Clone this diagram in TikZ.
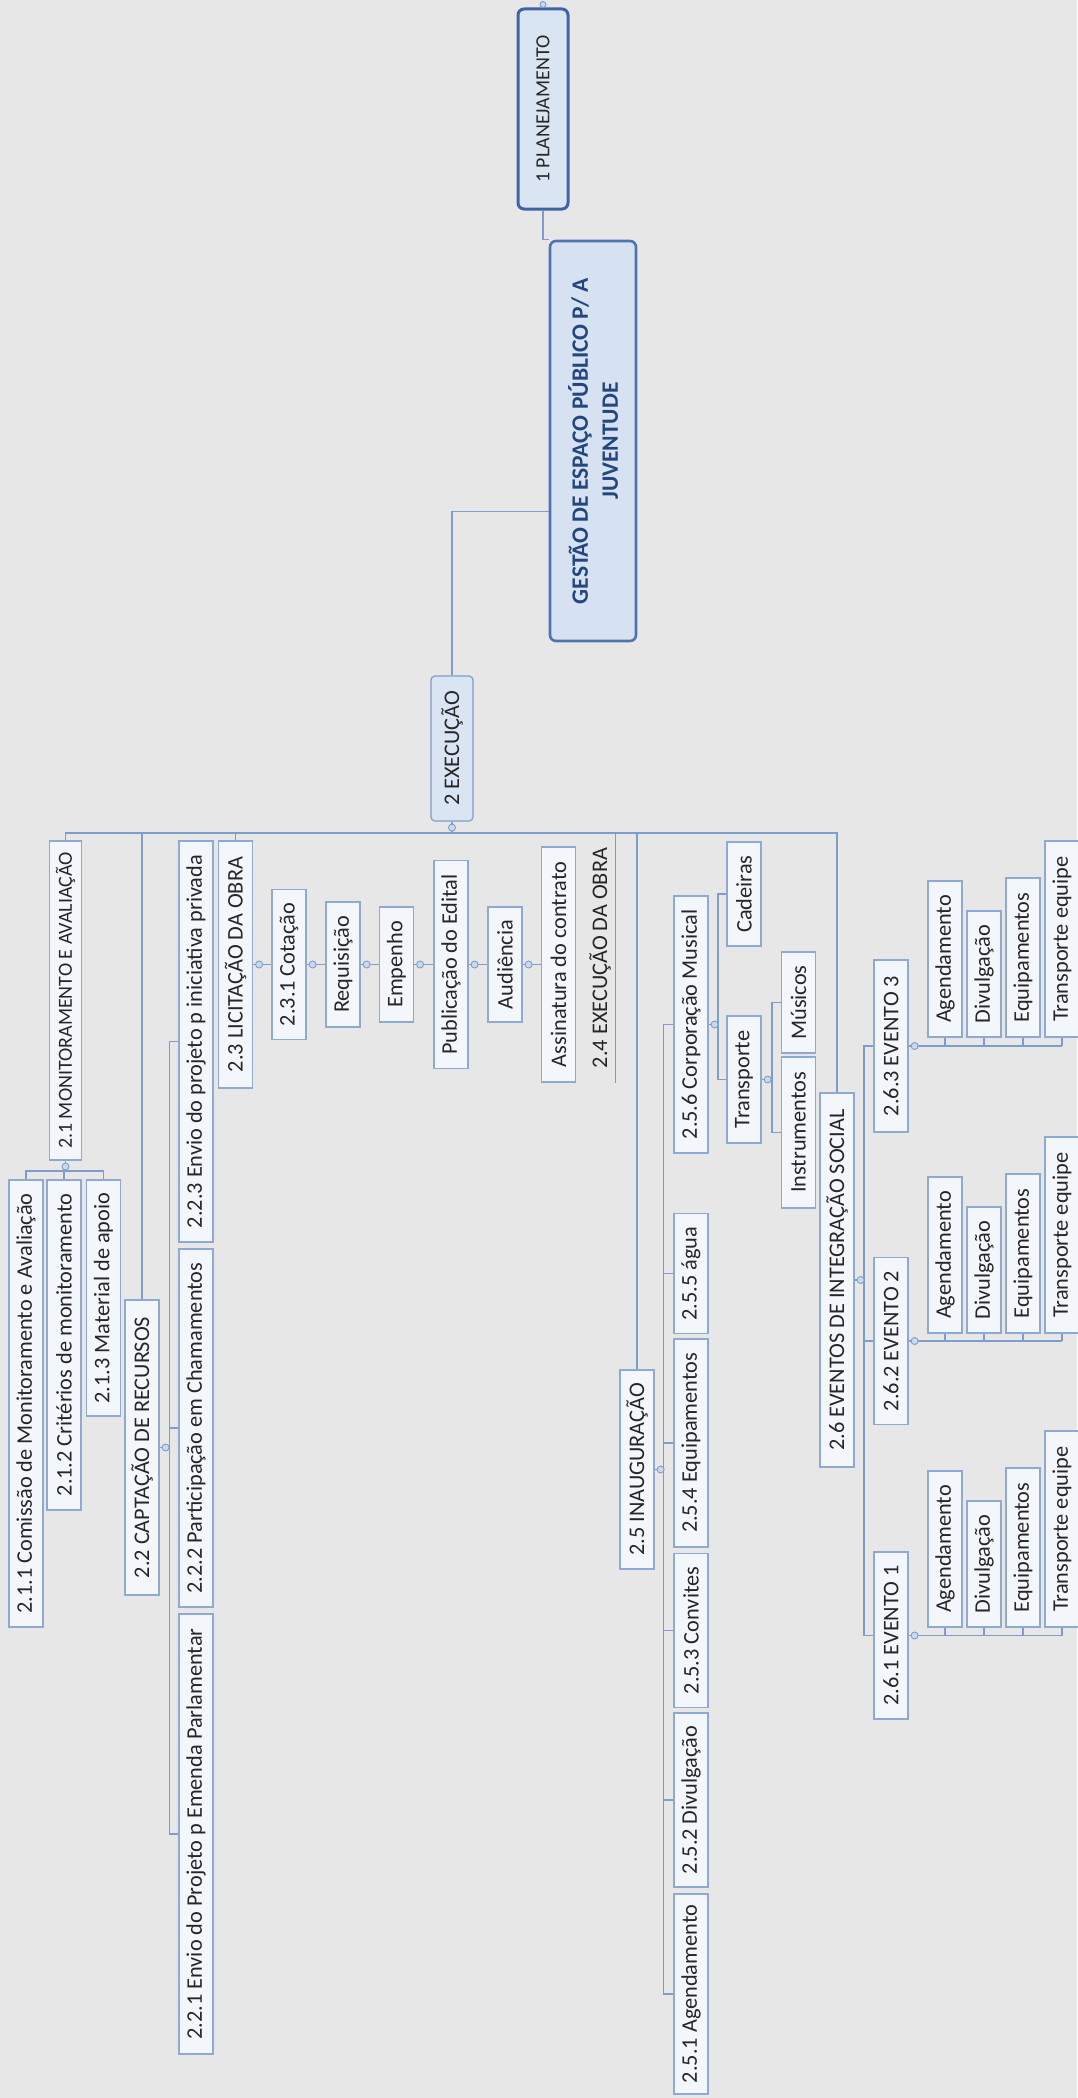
\documentclass[tikz,border=0pt]{standalone}
\usepackage{fontspec}
\setmainfont{Carlito}
\usetikzlibrary{calc}

\definecolor{bgc}{HTML}{E7E7E7}
\definecolor{boxfill}{HTML}{F3F6FA}
\definecolor{boxline}{HTML}{8EA9D2}
\definecolor{linec}{HTML}{7F9DCA}
\definecolor{knobfill}{HTML}{C9D9EF}
\definecolor{execfill}{HTML}{DAE5F3}
\definecolor{rootfill}{HTML}{D6E2F1}
\definecolor{rootline}{HTML}{4E74B0}
\definecolor{roottext}{HTML}{24467F}
\definecolor{planline}{HTML}{3F64A6}

\tikzset{
	topic/.style={draw=boxline, fill=boxfill, line width=1.2pt, rotate=90,
		minimum height=34pt, inner sep=2pt, text=black!85,
		font=\fontsize{22.3}{26}\selectfont},
	bare/.style={rotate=90, inner sep=2pt, text=black!85,
		font=\fontsize{22.3}{26}\selectfont},
	mainbox/.style={topic, fill=execfill, draw=linec, rounded corners=4pt},
	rootbox/.style={topic, fill=rootfill, draw=rootline, line width=2.6pt,
		rounded corners=6pt, align=center, text=roottext,
		font=\fontsize{23.5}{30}\selectfont\bfseries},
	planbox/.style={topic, fill=execfill, draw=planline, line width=3pt,
		rounded corners=6pt, font=\fontsize{20}{24}\selectfont},
	link/.style={draw=linec, line width=1.2pt},
	knob/.style={draw=linec, fill=knobfill, line width=0.9pt},
}

\begin{document}
\begin{tikzpicture}[x=1pt, y=-1pt]

	\useasboundingbox (0,0) rectangle (1077,2098);
	\fill[bgc] (0,0) rectangle (1077,2098);

	% centre
	\node[planbox, minimum width=200pt, minimum height=50pt] (plan) at (543,109) {1 PLANEJAMENTO};
	\node[rootbox, minimum width=400pt, minimum height=86pt] (root) at (593,441) {GESTÃO DE ESPAÇO PÚBLICO P/ A\\JUVENTUDE};
	\node[mainbox, minimum width=145pt, minimum height=42pt] (exec) at (452,748.5) {2 EXECUÇÃO};

	% 2.1
	\node[topic, minimum width=319pt, minimum height=32pt, font=\fontsize{20}{24}\selectfont] (mon) at (65.5,1000.5) {2.1 MONITORAMENTO E AVALIAÇÃO};
	\node[topic, minimum width=447pt] (mon1) at (26,1403.5) {2.1.1 Comissão de Monitoramento e Avaliação};
	\node[topic, minimum width=330pt] (mon2) at (64,1345) {2.1.2 Critérios de monitoramento};
	\node[topic, minimum width=236pt] (mon3) at (103.5,1298) {2.1.3 Material de apoio};

	% 2.2
	\node[topic, minimum width=295pt] (cap) at (142,1447.5) {2.2 CAPTAÇÃO DE RECURSOS};
	\node[topic, minimum width=440pt] (cap1) at (196,1834) {2.2.1 Envio do Projeto p Emenda Parlamentar};
	\node[topic, minimum width=358pt] (cap2) at (196,1428) {2.2.2 Participação em Chamamentos};
	\node[topic, minimum width=401pt] (cap3) at (196,1041.5) {2.2.3 Envio do projeto p iniciativa privada};

	% 2.3 and 2.4
	\node[topic, minimum width=247pt] (lic) at (235.5,964.5) {2.3 LICITAÇÃO DA OBRA};
	\node[topic, minimum width=150pt] (cot) at (289,964.5) {2.3.1 Cotação};
	\node[topic, minimum width=125pt] (req) at (343,964.5) {Requisição};
	\node[topic, minimum width=115pt] (emp) at (396.5,964.5) {Empenho};
	\node[topic, minimum width=208pt] (pub) at (451,964.5) {Publicação do Edital};
	\node[topic, minimum width=115pt] (aud) at (505,964.5) {Audiência};
	\node[topic, minimum width=235pt] (ass) at (558.5,964.5) {Assinatura do contrato};
	\node[bare, minimum width=250pt, minimum height=30pt] (obra) at (600,958) {2.4 EXECUÇÃO DA OBRA};

	% 2.5
	\node[topic, minimum width=199pt] (ina) at (637,1469.5) {2.5 INAUGURAÇÃO};
	\node[topic, minimum width=200pt] (ina1) at (691,1994) {2.5.1 Agendamento};
	\node[topic, minimum width=174pt] (ina2) at (691,1800) {2.5.2 Divulgação};
	\node[topic, minimum width=154pt] (ina3) at (691,1630.5) {2.5.3 Convites};
	\node[topic, minimum width=208pt] (ina4) at (691,1443) {2.5.4 Equipamentos};
	\node[topic, minimum width=120pt] (ina5) at (691,1273.5) {2.5.5 água};
	\node[topic, minimum width=257pt] (ina6) at (691,1024.5) {2.5.6 Corporação Musical};
	\node[topic, minimum width=104pt] (cad) at (744,894) {Cadeiras};
	\node[topic, minimum width=127pt] (tra) at (744,1079.5) {Transporte};
	\node[topic, minimum width=101pt] (mus) at (798.5,1002.5) {Músicos};
	\node[topic, minimum width=151pt] (ins) at (798.5,1132.5) {Instrumentos};

	% 2.6
	\node[topic, minimum width=374pt] (evs) at (837,1280) {2.6 EVENTOS DE INTEGRAÇÃO SOCIAL};
	\node[topic, minimum width=172pt] (ev3) at (891,1046) {2.6.3 EVENTO 3};
	\node[topic, minimum width=167pt] (ev2) at (891,1341) {2.6.2 EVENTO 2};
	\node[topic, minimum width=167pt] (ev1) at (891,1635.5) {2.6.1 EVENTO 1};

	\node[topic, minimum width=156pt] (ag3) at (945,959) {Agendamento};
	\node[topic, minimum width=126pt] (di3) at (984,974) {Divulgação};
	\node[topic, minimum width=159pt] (eq3) at (1023,957.5) {Equipamentos};
	\node[topic, minimum width=196pt] (te3) at (1062,939) {Transporte equipe};

	\node[topic, minimum width=156pt] (ag2) at (945,1255) {Agendamento};
	\node[topic, minimum width=126pt] (di2) at (984,1270) {Divulgação};
	\node[topic, minimum width=159pt] (eq2) at (1023,1253.5) {Equipamentos};
	\node[topic, minimum width=196pt] (te2) at (1062,1235) {Transporte equipe};

	\node[topic, minimum width=156pt] (ag1) at (945,1549) {Agendamento};
	\node[topic, minimum width=126pt] (di1) at (984,1564) {Divulgação};
	\node[topic, minimum width=159pt] (eq1) at (1023,1547.5) {Equipamentos};
	\node[topic, minimum width=196pt] (te1) at (1062,1529) {Transporte equipe};

	% links
	\draw[link] (plan.west) |- (root.north east);
	\draw[link] ($(root.north east)!0.675!(root.north west)$) -| (exec.east);

	\coordinate (bar) at (452,833);
	\draw[link] (exec.west) -- (bar);
	\draw[link] (mon.east) |- (bar) -| (evs.east);
	\draw[link] (cap.east) -- (cap.east |- bar);
	\draw[link] (lic.east) -- (lic.east |- bar);
	\draw[link] (ina.east) -- (ina.east |- bar);
	\draw[link] (obra.south east) -- (obra.south west);

	\coordinate (monb) at (65.5,1171);
	\draw[link] (mon.west) -- (monb);
	\draw[link] (mon1.east) |- (monb) -| (mon3.east);
	\draw[link] (mon2.east) -- (mon2.east |- monb);

	\coordinate (capb) at (169.5,1447.5);
	\draw[link] (cap.south) -- (capb);
	\draw[link] (cap3.north) -| (capb) |- (cap1.north);
	\draw[link] (cap2.north) -- (cap2.north -| capb);

	\draw[link] (lic.south) -- (cot.north);
	\draw[link] (cot.south) -- (req.north);
	\draw[link] (req.south) -- (emp.north);
	\draw[link] (emp.south) -- (pub.north);
	\draw[link] (pub.south) -- (aud.north);
	\draw[link] (aud.south) -- (ass.north);

	\coordinate (inab) at (663.5,1469.5);
	\draw[link] (ina.south) -- (inab);
	\draw[link] (ina6.north) -| (inab) |- (ina1.north);
	\draw[link] (ina2.north) -- (ina2.north -| inab);
	\draw[link] (ina3.north) -- (ina3.north -| inab);
	\draw[link] (ina4.north) -- (ina4.north -| inab);
	\draw[link] (ina5.north) -- (ina5.north -| inab);

	\coordinate (ina6b) at (718,1024.5);
	\draw[link] (ina6.south) -- (ina6b);
	\draw[link] (cad.north) -| (ina6b) |- (tra.north);

	\coordinate (trab) at (772,1079.5);
	\draw[link] (tra.south) -- (trab);
	\draw[link] (mus.north) -| (trab) |- (ins.north);

	\coordinate (evsb) at (864,1280);
	\draw[link] (evs.south) -- (evsb);
	\draw[link] (ev3.north) -| (evsb) |- (ev1.north);
	\draw[link] (ev2.north) -- (ev2.north -| evsb);

	\draw[link] (ev3.south) -- (ev3.south -| te3.west);
	\draw[link] (ag3.west) -- (ag3.west |- ev3.south);
	\draw[link] (di3.west) -- (di3.west |- ev3.south);
	\draw[link] (eq3.west) -- (eq3.west |- ev3.south);
	\draw[link] (te3.west) -- (te3.west |- ev3.south);

	\draw[link] (ev2.south) -- (ev2.south -| te2.west);
	\draw[link] (ag2.west) -- (ag2.west |- ev2.south);
	\draw[link] (di2.west) -- (di2.west |- ev2.south);
	\draw[link] (eq2.west) -- (eq2.west |- ev2.south);
	\draw[link] (te2.west) -- (te2.west |- ev2.south);

	\draw[link] (ev1.south) -- (ev1.south -| te1.west);
	\draw[link] (ag1.west) -- (ag1.west |- ev1.south);
	\draw[link] (di1.west) -- (di1.west |- ev1.south);
	\draw[link] (eq1.west) -- (eq1.west |- ev1.south);
	\draw[link] (te1.west) -- (te1.west |- ev1.south);

	% knobs
	\draw[knob] ([yshift=3pt]plan.east) circle [radius=3pt];
	\draw[knob] ([yshift=-6pt]exec.west) circle [radius=3.5pt];
	\draw[knob] ([yshift=-6pt]mon.west) circle [radius=3.5pt];
	\draw[knob] ([xshift=6pt]cap.south) circle [radius=3.5pt];
	\draw[knob] ([xshift=6pt]lic.south) circle [radius=3.5pt];
	\draw[knob] ([xshift=6pt]cot.south) circle [radius=3.5pt];
	\draw[knob] ([xshift=6pt]req.south) circle [radius=3.5pt];
	\draw[knob] ([xshift=6pt]emp.south) circle [radius=3.5pt];
	\draw[knob] ([xshift=6pt]pub.south) circle [radius=3.5pt];
	\draw[knob] ([xshift=6pt]aud.south) circle [radius=3.5pt];
	\draw[knob] ([xshift=6pt]ina.south) circle [radius=3.5pt];
	\draw[knob] ([xshift=6pt]ina6.south) circle [radius=3.5pt];
	\draw[knob] ([xshift=6pt]tra.south) circle [radius=3.5pt];
	\draw[knob] ([xshift=6pt]evs.south) circle [radius=3.5pt];
	\draw[knob] ([xshift=6pt]ev3.south) circle [radius=3.5pt];
	\draw[knob] ([xshift=6pt]ev2.south) circle [radius=3.5pt];
	\draw[knob] ([xshift=6pt]ev1.south) circle [radius=3.5pt];

\end{tikzpicture}
\end{document}
